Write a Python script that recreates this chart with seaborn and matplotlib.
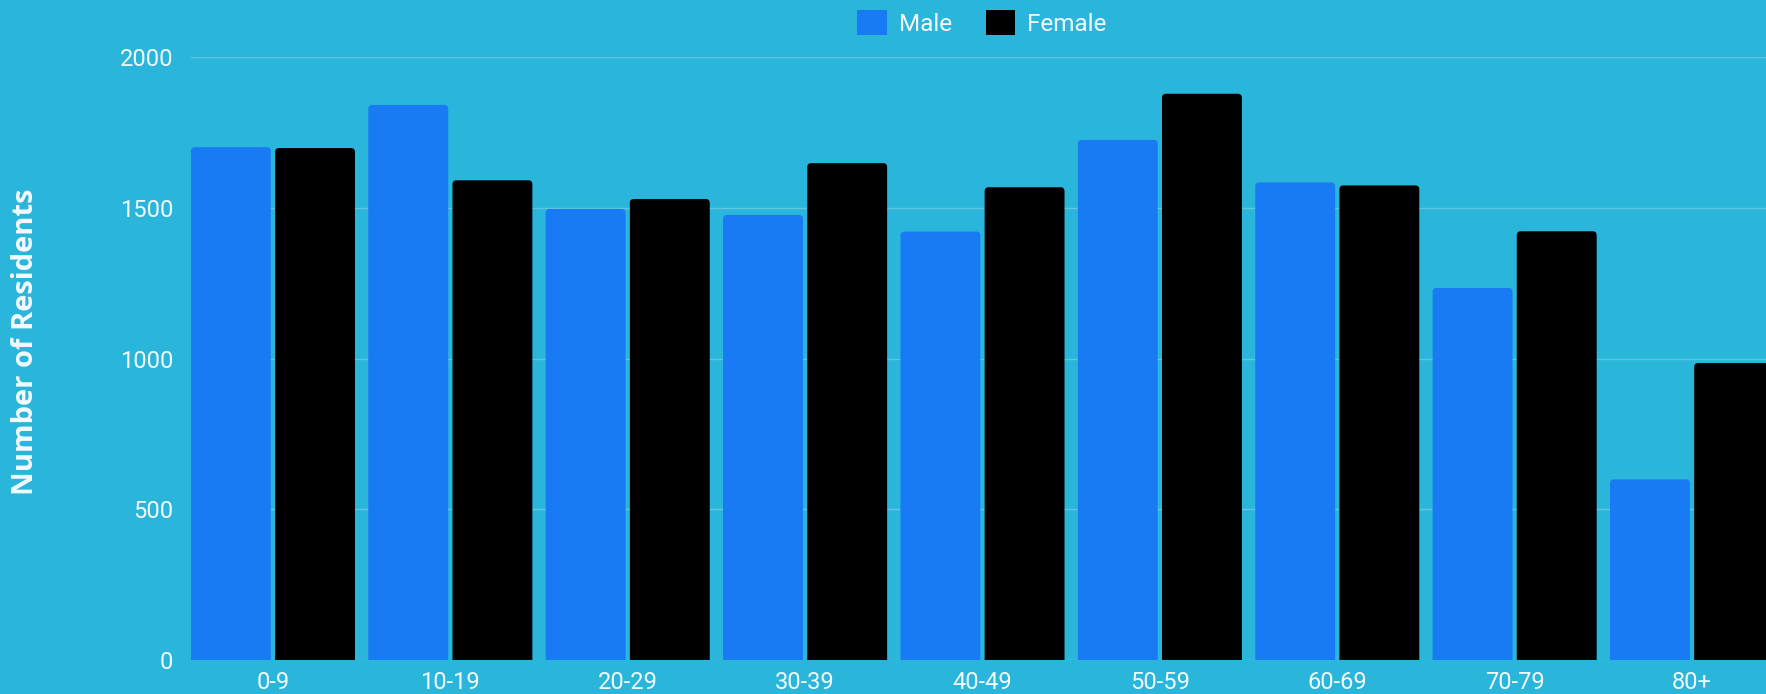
import pandas as pd
import matplotlib
matplotlib.use("Agg")
import matplotlib.pyplot as plt
from matplotlib.patches import FancyBboxPatch
import seaborn as sns

# Age groups and resident counts
age_groups = ["0-9", "10-19", "20-29", "30-39", "40-49", "50-59", "60-69", "70-79", "80+"]
male = [1701, 1841, 1496, 1476, 1421, 1725, 1584, 1234, 599]
female = [1698, 1591, 1529, 1648, 1568, 1878, 1574, 1422, 985]
y_ticks = [0, 500, 1000, 1500, 2000]

BG = "#2AB5DA"
MALE_COLOR = "#187BF3"
FEMALE_COLOR = "#000000"
TEXT = "#F2FAFF"

df = pd.DataFrame({
    "Age": age_groups * 2,
    "Residents": male + female,
    "Sex": ["Male"] * len(age_groups) + ["Female"] * len(age_groups),
})

sns.set_theme(style="white")
plt.rcParams["font.family"] = ["Roboto", "DejaVu Sans"]

fig = plt.figure(figsize=(17.66, 6.94), dpi=100, facecolor=BG)
ax = fig.add_axes([191 / 1766, 34 / 694, 1 - 191 / 1766, 603 / 694])
ax.set_facecolor(BG)

sns.barplot(data=df, x="Age", y="Residents", hue="Sex",
            palette={"Male": MALE_COLOR, "Female": FEMALE_COLOR},
            width=0.949, gap=0.051, linewidth=0, saturation=1, ax=ax)

ax.set_xlim(-0.462, 8.417)
ax.set_ylim(0, 2000)

# swap the plain rectangles for ones with slightly rounded tops
r_x = 0.0225
aspect = 13.3 / r_x
for p in list(ax.patches):
    x0, w, h = p.get_x(), p.get_width(), p.get_height()
    if w == 0:
        continue
    fb = FancyBboxPatch((x0, -30), w, h + 30,
                        boxstyle=f"round,pad=0,rounding_size={r_x}",
                        mutation_aspect=aspect, facecolor=p.get_facecolor(),
                        edgecolor="none", linewidth=0, zorder=p.get_zorder())
    p.set_visible(False)
    ax.add_patch(fb)

ax.set_yticks(y_ticks)
ax.set_yticklabels([str(v) for v in y_ticks])
ax.grid(axis="y", color="white", alpha=0.25, linewidth=1)
ax.set_axisbelow(True)
for s in ax.spines.values():
    s.set_visible(False)
ax.tick_params(axis="both", length=0, colors=TEXT, labelsize=17)
ax.tick_params(axis="y", pad=13)
ax.tick_params(axis="x", pad=8)
ax.set_xlabel("")
ax.set_ylabel("Number of Residents", color=TEXT, fontsize=21, fontweight="bold",
              family=["Open Sans", "DejaVu Sans"])
ax.yaxis.set_label_coords(-0.096, 0.527)

handles, labels = ax.get_legend_handles_labels()
ax.get_legend().remove()
fig.legend(handles, labels, loc="center", bbox_to_anchor=(982 / 1766, 0.967), ncol=2,
           frameon=False, fontsize=17.5, labelcolor=TEXT, handlelength=1.2, handleheight=1.2,
           handletextpad=0.5, columnspacing=1.4)

fig.savefig("out.png", dpi=100, facecolor=BG)
